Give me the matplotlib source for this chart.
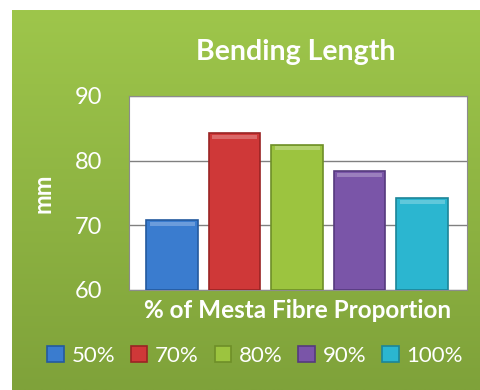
import numpy as np
import matplotlib.pyplot as plt
from matplotlib.patches import Rectangle
from matplotlib.colors import LinearSegmentedColormap

# data
labels = ["50%", "70%", "80%", "90%", "100%"]
values = [70.8, 84.3, 82.5, 78.4, 74.2]
colors = ["#3a7ccf", "#cf3838", "#9cc43f", "#7a55a8", "#2bb6d0"]
edges = ["#245a9e", "#9a2424", "#6e8f28", "#553a7d", "#1c8598"]
yticks = [60, 70, 80, 90]

plt.rcParams['font.family'] = ['Lato', 'DejaVu Sans']

fig = plt.figure(figsize=(4.81, 3.90), dpi=100)
fig.patch.set_facecolor("white")

# green panel with vertical gradient
bg = fig.add_axes([12/481, 0, 1 - 12/481, 1 - 10/390])
grad = np.linspace(0, 1, 256).reshape(-1, 1)
cmap = LinearSegmentedColormap.from_list("g", ["#9ec64b", "#7fa23a"])
bg.imshow(grad, aspect="auto", cmap=cmap, extent=[0, 1, 0, 1], origin="upper")
bg.set_axis_off()

ax = fig.add_axes([129/481, 100/390, 338/481, 194/390])
ax.set_facecolor("white")
x = np.arange(len(labels))
for i in range(len(labels)):
    ax.bar(x[i], values[i] - 60, bottom=60, width=0.83, color=colors[i],
           edgecolor=edges[i], linewidth=1.2, label=labels[i], zorder=3)
    # light bevel at top
    ax.add_patch(Rectangle((x[i] - 0.36, values[i] - 0.9), 0.72, 0.6,
                           color="white", alpha=0.25, lw=0, zorder=4))

ax.set_xlim(-0.688, 4.72)
ax.set_ylim(60, 90)
ax.set_yticks(yticks)
ax.yaxis.grid(True, color="#808080", linewidth=1, zorder=0)
ax.set_xticks([])
ax.tick_params(axis="y", length=0, pad=19, labelsize=17, labelcolor="white")
for s in ax.spines.values():
    s.set_color("#8c8c8c")

fig.text(296/481, 1 - 52/390, "Bending Length", color="white", fontsize=20.5,
         fontweight="bold", ha="center", va="center")
fig.text(43/481, 1 - 193/390, "mm", color="white", fontsize=17,
         fontweight="bold", ha="center", va="center", rotation=90)
fig.text(298/481, 1 - 311/390, "% of Mesta Fibre Proportion", color="white",
         fontsize=17.5, fontweight="bold", ha="center", va="center")

leg = fig.legend(loc="center", bbox_to_anchor=(255/481, 1 - 356/390), ncol=5,
                 frameon=False, fontsize=16, labelcolor="white",
                 handlelength=0.75, handleheight=0.75, handletextpad=0.35,
                 columnspacing=0.7)

fig.savefig("out.png", dpi=100)
